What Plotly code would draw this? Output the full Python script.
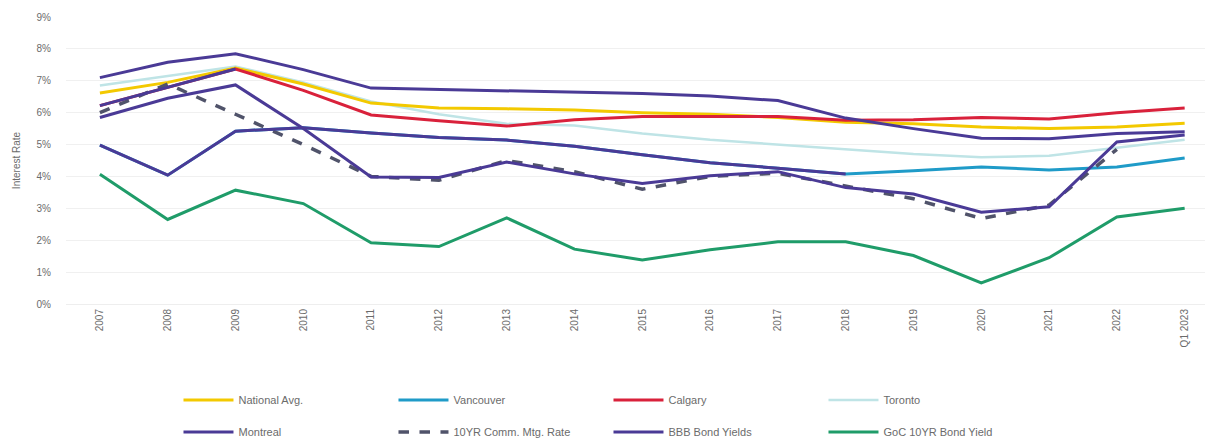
import plotly.graph_objects as go

categories = ["2007", "2008", "2009", "2010", "2011", "2012", "2013", "2014", "2015",
              "2016", "2017", "2018", "2019", "2020", "2021", "2022", "Q1 2023"]

national_avg = [6.62, 6.95, 7.4, 6.9, 6.3, 6.15, 6.12, 6.08, 6.0, 5.95, 5.85, 5.7, 5.65, 5.55, 5.5, 5.55, 5.67]
vancouver = [4.98, 4.04, 5.42, 5.53, 5.36, 5.22, 5.14, 4.95, 4.68, 4.43, 4.26, 4.08, 4.18, 4.3, 4.2, 4.3, 4.58]
calgary = [6.22, 6.8, 7.37, 6.7, 5.93, 5.75, 5.58, 5.78, 5.88, 5.88, 5.88, 5.76, 5.78, 5.85, 5.8, 6.0, 6.15]
toronto = [6.85, 7.15, 7.45, 6.95, 6.35, 5.95, 5.65, 5.6, 5.35, 5.15, 5.0, 4.85, 4.7, 4.6, 4.65, 4.9, 5.15]
montreal = [7.1, 7.58, 7.85, 7.35, 6.77, 6.73, 6.7, 6.66, 6.6, 6.52, 6.38, 5.83, 5.5, 5.2, 5.18, 5.35, 5.4]
comm_mtg_10yr = [6.0, 6.9, 5.95, 5.0, 4.0, 3.88, 4.5, 4.15, 3.6, 4.0, 4.1, 3.7, 3.3, 2.68, 3.1, 4.85, None]
bbb_yields = [5.85, 6.45, 6.87, 5.5, 3.98, 3.97, 4.45, 4.08, 3.78, 4.02, 4.15, 3.65, 3.45, 2.88, 3.05, 5.08, 5.3]
goc_10yr = [4.07, 2.65, 3.57, 3.15, 1.92, 1.8, 2.7, 1.72, 1.38, 1.7, 1.95, 1.95, 1.52, 0.66, 1.45, 2.73, 3.0]

# purple overdrawn segments visible in the picture
vancouver_purple = [4.98, 4.04, 5.42, 5.53, 5.36, 5.22, 5.14, 4.95, 4.68, 4.43, 4.26, 4.08,
                    None, None, None, None, None]
calgary_purple = [6.22, 6.8, 7.37] + [None] * 14

YELLOW = "#f3c900"
BLUE = "#1f9bc8"
RED = "#d9213b"
TEAL = "#bfe4e6"
PURPLE = "#4a3a96"
DASH = "#50536a"
GREEN = "#1f9c69"

fig = go.Figure()

def add(y, name, color, width=3, dash="solid", legend="legend", showlegend=True, rank=1):
    fig.add_trace(go.Scatter(
        x=categories, y=y, name=name, mode="lines",
        line=dict(color=color, width=width, dash=dash),
        legend=legend, showlegend=showlegend, connectgaps=False, legendrank=rank,
    ))

add(toronto, "Toronto", TEAL, 2.5, rank=4)
add(national_avg, "National Avg.", YELLOW, 3, rank=1)
add(vancouver, "Vancouver", BLUE, 3, rank=2)
add(calgary, "Calgary", RED, 3, rank=3)
add(montreal, "Montreal", PURPLE, 3, legend="legend2", rank=1)
add(comm_mtg_10yr, "10YR Comm. Mtg. Rate", DASH, 3.5, dash="dash", legend="legend2", rank=2)
add(bbb_yields, "BBB Bond Yields", PURPLE, 3, legend="legend2", rank=3)
add(goc_10yr, "GoC 10YR Bond Yield", GREEN, 3, legend="legend2", rank=4)
add(vancouver_purple, "v", PURPLE, 3, showlegend=False)
add(calgary_purple, "c", PURPLE, 3, showlegend=False)

font_color = "#6b6b6b"
legend_common = dict(
    orientation="h", xref="container", yref="container",
    x=0.148, xanchor="left", yanchor="middle",
    entrywidth=150, entrywidthmode="pixels", itemwidth=50,
    font=dict(family="Liberation Sans, Arial, sans-serif", size=11, color=font_color),
    bgcolor="rgba(0,0,0,0)", traceorder="normal",
)

fig.update_layout(
    width=1206, height=443,
    margin=dict(l=66, r=1, t=17, b=139),
    paper_bgcolor="white", plot_bgcolor="white",
    font=dict(family="Liberation Sans, Arial, sans-serif", color=font_color),
    legend=dict(y=1 - 400 / 443, **legend_common),
    legend2=dict(y=1 - 432 / 443, **legend_common),
    xaxis=dict(
        type="category", range=[-0.5, 16.3],
        tickangle=-90, tickfont=dict(size=10, color=font_color),
        showgrid=False, showline=True, linecolor="#eeeeee", linewidth=1,
        ticks="", zeroline=False,
    ),
    yaxis=dict(
        range=[0, 9],
        tickvals=[0, 1, 2, 3, 4, 5, 6, 7, 8, 9],
        ticktext=[f"{v}%" for v in range(10)],
        tickfont=dict(size=10, color=font_color),
        gridcolor="#f0f0f0", gridwidth=1, zeroline=False,
        ticklabelstandoff=14,
        title=dict(text="Interest Rate", font=dict(size=10, color=font_color), standoff=14),
    ),
)

fig.write_html("out.html")
